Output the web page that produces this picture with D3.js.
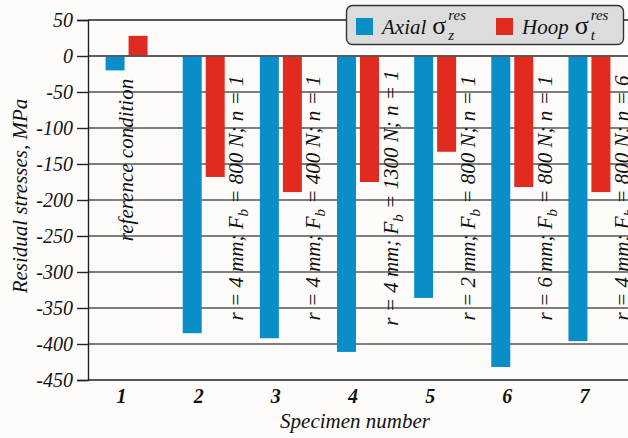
<!DOCTYPE html>
<html>
<head>
<meta charset="utf-8">
<script src="https://cdn.jsdelivr.net/npm/d3@7"></script>
<style>
  html, body { margin: 0; padding: 0; background: #fdfcfa; }
  svg { display: block; }
</style>
</head>
<body>
<div id="chart"></div>
<script>
// data
var specimens = ["1", "2", "3", "4", "5", "6", "7"];
var axial = [-20, -385, -392, -411, -336, -432, -396];
var hoop = [28, -168, -189, -175, -133, -182, -189];
var yTicks = [50, 0, -50, -100, -150, -200, -250, -300, -350, -400, -450];
// per-specimen treatment labels: r, Fb, n
var radius = [null, 4, 4, 4, 2, 6, 4];
var force = [null, 800, 400, 1300, 800, 800, 800];
var passes = [null, 1, 1, 1, 1, 1, 6];
var seriesNames = ["Axial", "Hoop"];
var seriesSubs = ["z", "t"];
var colors = ["#0a8ec8", "#e12b20"];

var serif = "Liberation Serif";
var width = 628, height = 438;
var margin = { top: 20, right: 0, bottom: 58, left: 88 };

var svg = d3.select("#chart").append("svg")
  .attr("width", width)
  .attr("height", height)
  .attr("font-family", serif);

svg.append("rect").attr("width", width).attr("height", height).attr("fill", "#fdfcfa");

var x = d3.scaleBand()
  .domain(specimens)
  .range([margin.left, width - margin.right]);

var y = d3.scaleLinear()
  .domain([-450, 50])
  .range([height - margin.bottom, margin.top]);

// grid lines
svg.append("g")
  .selectAll("line")
  .data(yTicks.filter(function (d) { return d !== -450 && d !== 50; }))
  .join("line")
  .attr("x1", margin.left)
  .attr("x2", width)
  .attr("y1", function (d) { return y(d); })
  .attr("y2", function (d) { return y(d); })
  .attr("stroke", "#555")
  .attr("stroke-width", 1.4);

// bars
var barW = 19, gap = 2;
var groups = svg.append("g")
  .selectAll("g")
  .data(specimens)
  .join("g");

groups.append("rect")
  .attr("x", function (d) { return x(d) + x.bandwidth() / 2 - gap - barW; })
  .attr("width", barW)
  .attr("y", function (d, i) { return Math.min(y(axial[i]), y(0)); })
  .attr("height", function (d, i) { return Math.abs(y(axial[i]) - y(0)); })
  .attr("fill", colors[0]);

groups.append("rect")
  .attr("x", function (d) { return x(d) + x.bandwidth() / 2 + gap; })
  .attr("width", barW)
  .attr("y", function (d, i) { return Math.min(y(hoop[i]), y(0)); })
  .attr("height", function (d, i) { return Math.abs(y(hoop[i]) - y(0)); })
  .attr("fill", colors[1]);

// zero line drawn over bars
svg.append("line")
  .attr("x1", margin.left).attr("x2", width)
  .attr("y1", y(0)).attr("y2", y(0))
  .attr("stroke", "#555").attr("stroke-width", 1.4);

// frame: top, bottom
svg.append("line")
  .attr("x1", margin.left).attr("x2", width)
  .attr("y1", y(50)).attr("y2", y(50))
  .attr("stroke", "#222").attr("stroke-width", 1.4);
svg.append("line")
  .attr("x1", margin.left).attr("x2", width)
  .attr("y1", y(-450)).attr("y2", y(-450))
  .attr("stroke", "#222").attr("stroke-width", 1.6);

// y axis
var yAxis = svg.append("g")
  .attr("transform", "translate(" + margin.left + ",0)")
  .call(d3.axisLeft(y).tickValues(yTicks).tickSize(11).tickPadding(4)
    .tickFormat(function (d) { return String(d); }));
yAxis.attr("font-family", serif);
yAxis.select(".domain").attr("stroke", "#222").attr("stroke-width", 1.4);
yAxis.selectAll(".tick line").attr("stroke", "#222").attr("stroke-width", 1.4);
yAxis.selectAll(".tick text")
  .attr("font-family", serif)
  .attr("font-size", 20)
  .attr("font-style", "italic")
  .attr("fill", "#111");

// x labels
svg.append("g")
  .selectAll("text")
  .data(specimens)
  .join("text")
  .attr("x", function (d) { return x(d) + x.bandwidth() / 2 - 5; })
  .attr("y", 403)
  .attr("text-anchor", "middle")
  .attr("font-size", 20)
  .attr("font-weight", "bold")
  .attr("font-style", "italic")
  .attr("fill", "#111")
  .text(function (d) { return d; });

svg.append("text")
  .attr("x", 355)
  .attr("y", 428)
  .attr("text-anchor", "middle")
  .attr("font-size", 21)
  .attr("font-style", "italic")
  .attr("fill", "#111")
  .text("Specimen number");

svg.append("text")
  .attr("transform", "translate(27,196) rotate(-90)")
  .attr("text-anchor", "middle")
  .attr("font-size", 21)
  .attr("font-style", "italic")
  .attr("fill", "#111")
  .text("Residual stresses, MPa");

// rotated treatment labels
var labels = svg.append("g")
  .selectAll("text")
  .data(specimens)
  .join("text")
  .attr("text-anchor", "middle")
  .attr("font-size", 21)
  .attr("font-style", "italic")
  .attr("fill", "#111")
  .attr("transform", function (d, i) {
    if (i === 0) return "translate(" + (x(d) + x.bandwidth() / 2 + 6) + ",160) rotate(-90)";
    return "translate(" + (x(d) + x.bandwidth() + 1) + ",198) rotate(-90)";
  });

labels.each(function (d, i) {
  var t = d3.select(this);
  if (i === 0) {
    t.text("reference condition");
    return;
  }
  t.append("tspan").text("r = " + radius[i] + " mm; F");
  t.append("tspan").attr("font-size", 15).attr("dy", 5).text("b");
  t.append("tspan").attr("dy", -5).text(" = " + force[i] + " N; n = " + passes[i]);
});

// legend
var legend = svg.append("g");
legend.append("rect")
  .attr("x", 346.5).attr("y", 5.5)
  .attr("width", 277).attr("height", 39)
  .attr("rx", 6)
  .attr("fill", "#dcdcdc")
  .attr("stroke", "#333")
  .attr("stroke-width", 1.4);

var legendX = [356, 496];
var items = legend.selectAll("g.item")
  .data(seriesNames)
  .join("g")
  .attr("class", "item")
  .attr("transform", function (d, i) { return "translate(" + legendX[i] + ",0)"; });

items.append("rect")
  .attr("x", 0).attr("y", 18)
  .attr("width", 17).attr("height", 17)
  .attr("fill", function (d, i) { return colors[i]; });

items.append("text")
  .attr("x", 26).attr("y", 34)
  .attr("font-size", 21)
  .attr("font-style", "italic")
  .attr("fill", "#111")
  .text(function (d) { return d; })
  .each(function (d) {
    var w = this.getComputedTextLength();
    var g = d3.select(this.parentNode);
    var sx = 26 + w + 6;
    g.append("text")
      .attr("x", sx).attr("y", 34)
      .attr("font-size", 26)
      .attr("fill", "#111")
      .text("\u03c3");
    g.append("text")
      .attr("x", sx + 16).attr("y", 20)
      .attr("font-size", 15)
      .attr("font-style", "italic")
      .attr("fill", "#111")
      .text("res");
    g.append("text")
      .attr("x", sx + 16).attr("y", 40)
      .attr("font-size", 15)
      .attr("font-style", "italic")
      .attr("fill", "#111")
      .text(seriesSubs[seriesNames.indexOf(d)]);
  });
</script>
</body>
</html>
